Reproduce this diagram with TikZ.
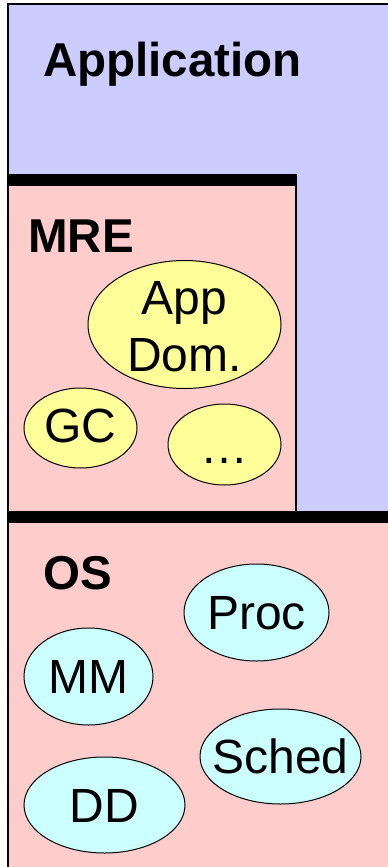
\documentclass[tikz,border=0pt]{standalone}
\usepackage{fontspec}
\setmainfont{Liberation Sans}
\usetikzlibrary{shapes.geometric}
\definecolor{appblue}{HTML}{CCCCFF}
\definecolor{layerpink}{HTML}{FFCCCC}
\definecolor{mreyellow}{HTML}{FFFF99}
\definecolor{oscyan}{HTML}{CCFFFF}
\newcommand{\zw}[1]{\makebox[0pt]{#1}}
\tikzset{
  layerlabel/.style={anchor=base west, inner sep=0pt, font=\fontsize{47.5}{57.7}\selectfont\bfseries},
  comp/.style={ellipse, draw=black, line width=1pt, inner sep=0pt,
    font=\fontsize{48}{57.7}\selectfont, text height=34pt, text depth=0pt},
  mrecomp/.style={comp, fill=mreyellow},
  oscomp/.style={comp, fill=oscyan},
  bar/.style={fill=black},
}
\begin{document}
\begin{tikzpicture}[x=1pt, y=-1pt]
\useasboundingbox (0,0) rectangle (388,867);
\fill[white] (0,0) rectangle (388,867);
\begin{scope}
\clip (0,0) rectangle (388,867);
% Application layer
\fill[appblue] (8,4.5) rectangle (400,880);
\draw[line width=2pt] (8,880) -- (8,4.5) -- (400,4.5);
% MRE layer
\fill[layerpink] (8,180) rectangle (296,517);
\draw[line width=1.5pt] (296,180) -- (296,517);
\fill[bar] (8,173.5) rectangle (297,186);
% OS layer
\fill[layerpink] (8,517) rectangle (400,880);
\fill[bar] (8,511) rectangle (400,523);
\draw[line width=2pt] (8,170) -- (8,880);
\end{scope}
% labels
\node[layerlabel] (app) at (43,77) {Application};
\node[layerlabel] (mre) at (28,252.5) {MRE};
\node[layerlabel] (os) at (43,589) {OS};
% MRE components
\node[mrecomp, minimum width=193pt, minimum height=128pt, text height=0pt, text depth=21pt]
  (appdom) at (184.5,324.5)
  {\zw{\begin{tabular}[t]{@{}c@{}}App\\Dom.\end{tabular}}};
\node[mrecomp, minimum width=113pt, minimum height=80pt, text height=28pt] (gc) at (80.5,428) {\zw{GC}};
\node[mrecomp, minimum width=113pt, minimum height=81pt, text height=37pt] (etc) at (224.5,444.5) {\zw{\dots}};
% OS components
\node[oscomp, minimum width=145pt, minimum height=97pt] (proc) at (256.5,612.5) {\zw{Proc}};
\node[oscomp, minimum width=129pt, minimum height=97pt] (mm) at (88.5,676.5) {\zw{MM}};
\node[oscomp, minimum width=161pt, minimum height=95pt] (sched) at (280.5,756.5) {\zw{Sched}};
\node[oscomp, minimum width=161pt, minimum height=96pt] (dd) at (104.5,805) {\zw{DD}};
\end{tikzpicture}
\end{document}
